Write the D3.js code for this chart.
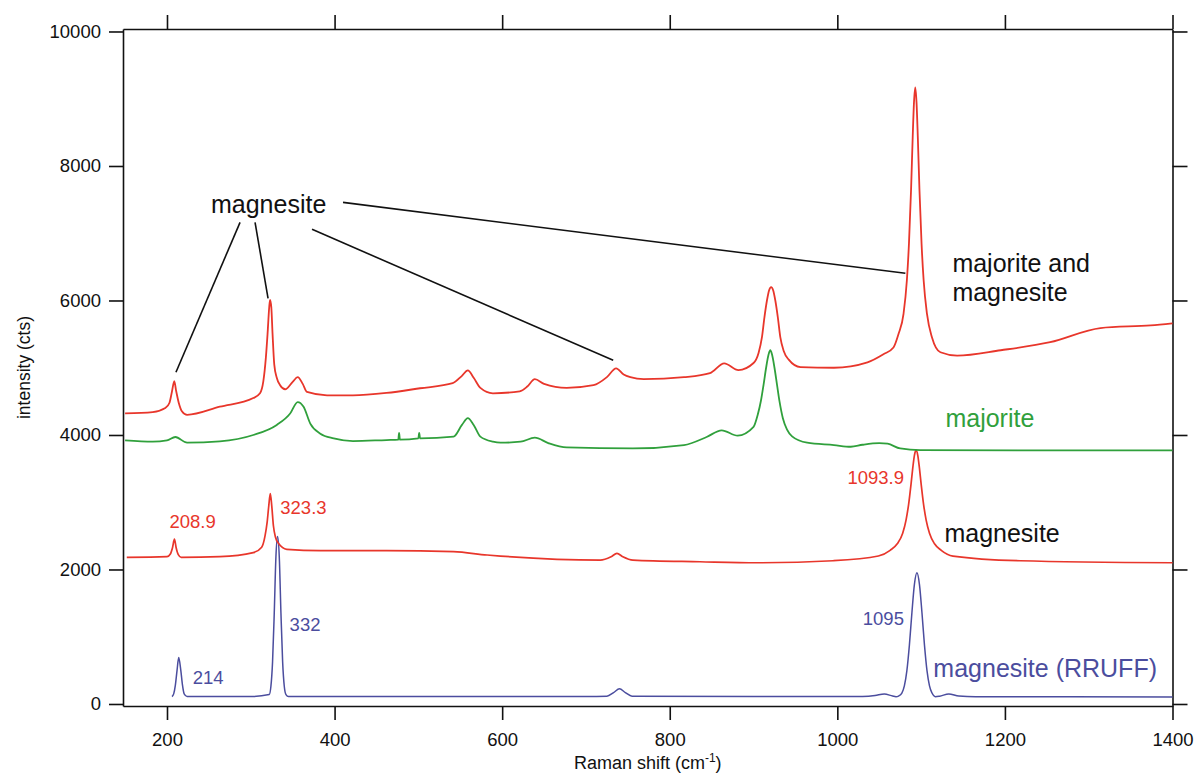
<!DOCTYPE html>
<html>
<head>
<meta charset="utf-8">
<script src="https://cdn.jsdelivr.net/npm/d3@7"></script>
<style>
  html, body { margin: 0; padding: 0; background: #fff; }
  svg { display: block; font-family: "Liberation Sans", Arial, Helvetica, sans-serif; }
</style>
</head>
<body>
<svg id="chart" width="1195" height="774"></svg>
<script>
// Raman spectra: [wavenumber (cm-1), intensity (cts)]
const mixedSpectrum = [
  [150, 4320], [183, 4340], [198, 4400], [203, 4480], [206, 4650], [208.7, 4800], [211, 4650],
  [214, 4480], [218, 4350], [224, 4300], [263, 4420], [303, 4550], [311, 4620], [315, 4800],
  [318, 5150], [320, 5500], [322, 5900], [323, 6010], [324.5, 5900], [326, 5500], [328, 5050],
  [331, 4850], [335, 4740], [341, 4680], [350, 4790], [356, 4860], [362, 4760], [367, 4640],
  [391, 4590], [422, 4590], [462, 4625], [502, 4695], [541, 4770], [552, 4880], [559, 4960],
  [566, 4850], [574, 4700], [589, 4620], [621, 4650], [630, 4720], [639, 4830], [650, 4760],
  [677, 4700], [709, 4740], [725, 4860], [736, 4990], [745, 4900], [753, 4860], [769, 4830],
  [817, 4860], [848, 4920], [865, 5065], [882, 4965], [900, 5070], [906, 5220], [910, 5450],
  [913, 5750], [916, 6000], [918.5, 6150], [921, 6200], [923.5, 6150], [926, 6000], [929, 5750],
  [932, 5450], [936, 5250], [942, 5120], [956, 5010], [996, 5000], [1036, 5080], [1055, 5200],
  [1067, 5300], [1073, 5500], [1079, 5800], [1083, 6300], [1085.5, 6850], [1088, 7650],
  [1090, 8450], [1091.5, 8950], [1093, 9170], [1094.5, 8950], [1096, 8450], [1098, 7650],
  [1100.5, 6850], [1103, 6300], [1107, 5800], [1113, 5450], [1123, 5230], [1143, 5180],
  [1195, 5260], [1254, 5380], [1314, 5590], [1374, 5630], [1400, 5660]
];

const majoriteSpectrum = [
  [150, 3920], [183, 3900], [200, 3920], [210, 3970], [224, 3885], [263, 3905], [303, 4000],
  [331, 4150], [347, 4320], [356, 4490], [363, 4420], [371, 4170], [383, 4020], [399, 3950],
  [422, 3910], [462, 3925], [476, 3930], [477, 4030], [478, 3930], [500, 3950], [501, 4030],
  [502, 3950], [542, 3975], [552, 4150], [559, 4250], [566, 4150], [574, 3975], [589, 3900],
  [598, 3885], [622, 3900], [639, 3960], [655, 3880], [677, 3815], [756, 3800], [817, 3850],
  [844, 3970], [862, 4070], [881, 3990], [900, 4120], [905, 4300], [909, 4520], [912, 4750],
  [915, 5000], [918, 5200], [920, 5260], [922, 5200], [925, 5000], [928, 4750], [931, 4500],
  [935, 4250], [940, 4080], [946, 3980], [964, 3885], [996, 3850], [1016, 3825], [1030, 3855],
  [1050, 3880], [1060, 3870], [1075, 3800], [1099, 3775], [1400, 3770]
];

const magnesiteSpectrum = [
  [152, 2180], [200, 2190], [204, 2230], [206.5, 2320], [208.9, 2450], [211, 2320], [213.5, 2220],
  [217, 2180], [263, 2190], [303, 2250], [313, 2330], [317, 2500], [319.5, 2700], [321.5, 2950],
  [323.3, 3130], [325, 2950], [327, 2650], [329.5, 2480], [333, 2390], [343, 2300], [383, 2280],
  [462, 2280], [542, 2265], [582, 2215], [598, 2200], [717, 2140], [730, 2190], [737, 2240],
  [744, 2190], [756, 2140], [836, 2115], [904, 2100], [995, 2130], [1049, 2200], [1063, 2285],
  [1071.5, 2382], [1078, 2540], [1082, 2735], [1085, 2962], [1088, 3274], [1090, 3506],
  [1092, 3698], [1093.9, 3774], [1096, 3698], [1098, 3506], [1100, 3274], [1103, 2962],
  [1106, 2735], [1110, 2540], [1116, 2382], [1124, 2285], [1138, 2200], [1218, 2130], [1400, 2100]
];

const rruffSpectrum = [
  [206, 110], [208, 150], [210, 280], [212, 500], [214, 690], [216.5, 500], [218.5, 280],
  [220.5, 150], [224, 112], [300, 110], [322, 140], [324, 260], [326, 630], [328, 1350],
  [330, 2190], [332, 2490], [334, 2190], [336, 1350], [338, 630], [340, 260], [342, 140],
  [345, 112], [700, 110], [725, 115], [733, 170], [740, 225], [747, 170], [755, 115],
  [1030, 112], [1045, 125], [1056, 150], [1066, 118], [1070, 108], [1073, 118], [1077, 163],
  [1080, 270], [1083, 497], [1086, 876], [1089, 1357], [1092, 1779], [1095, 1950],
  [1098, 1779], [1101, 1357], [1104, 876], [1107, 497], [1110, 270], [1113, 163], [1117, 108],
  [1122, 115], [1133, 150], [1145, 118], [1165, 108], [1400, 105]
];

// Peak positions quoted on the plot
const magnesitePeaks = ["208.9", "323.3", "1093.9"];
const rruffPeaks = ["214", "332", "1095"];

// Axis ticks
const xTicks = [200, 400, 600, 800, 1000, 1200, 1400];
const yTicks = [0, 2000, 4000, 6000, 8000, 10000];

const svg = d3.select("#chart");
const W = 1195, H = 774;
const margin = { left: 123, right: 22.5, top: 29, bottom: 68 };

const x = d3.scaleLinear().domain([147.5, 1400]).range([margin.left, W - margin.right]);
const y = d3.scaleLinear().domain([-30, 10037]).range([H - margin.bottom, margin.top]);

const RED = "#e8362b", GREEN = "#30a03c", BLUE = "#4b4d9e";

// ---- axes (full frame, outward ticks) ----
const tickFont = "18.5px";
const gL = svg.append("g").attr("transform", `translate(${margin.left},0)`)
  .call(d3.axisLeft(y).tickValues(yTicks).tickSize(14).tickSizeOuter(0).tickPadding(8).tickFormat(d3.format("d")));
const gB = svg.append("g").attr("transform", `translate(0,${H - margin.bottom})`)
  .call(d3.axisBottom(x).tickValues(xTicks).tickSize(14).tickSizeOuter(0).tickPadding(12.5).tickFormat(d3.format("d")));
const gT = svg.append("g").attr("transform", `translate(0,${margin.top})`)
  .call(d3.axisTop(x).tickValues(xTicks).tickSize(14).tickSizeOuter(0).tickFormat(""));
const gR = svg.append("g").attr("transform", `translate(${W - margin.right},0)`)
  .call(d3.axisRight(y).tickValues(yTicks).tickSize(15).tickSizeOuter(0).tickFormat(""));

[gL, gB, gT, gR].forEach(g => {
  g.select(".domain").attr("stroke", "#111").attr("stroke-width", 1.6);
  g.selectAll(".tick line").attr("stroke", "#111").attr("stroke-width", 1.6);
  g.selectAll(".tick text").attr("fill", "#111").style("font-size", tickFont)
    .style("font-family", "'Liberation Sans', Arial, sans-serif");
});

// axis titles
svg.append("text")
  .attr("transform", `translate(30,${(margin.top + H - margin.bottom) / 2}) rotate(-90)`)
  .attr("text-anchor", "middle")
  .style("font-size", "17.5px").attr("fill", "#111")
  .text("intensity (cts)");

const xt = svg.append("text")
  .attr("x", x((147.5 + 1400) / 2)).attr("y", 769)
  .attr("text-anchor", "middle")
  .style("font-size", "18px").attr("fill", "#111");
xt.append("tspan").text("Raman shift (cm");
xt.append("tspan").attr("dy", -7).style("font-size", "12px").text("-1");
xt.append("tspan").attr("dy", 7).text(")");

// ---- spectra ----
const line = d3.line()
  .x(d => x(d[0]))
  .y(d => y(d[1]))
  .curve(d3.curveMonotoneX);

const plot = svg.append("g");
[
  [rruffSpectrum, BLUE, 1.5],
  [magnesiteSpectrum, RED, 1.7],
  [majoriteSpectrum, GREEN, 1.8],
  [mixedSpectrum, RED, 1.8]
].forEach(([data, color, w]) => {
  plot.append("path")
    .datum(data)
    .attr("fill", "none")
    .attr("stroke", color)
    .attr("stroke-width", w)
    .attr("stroke-linejoin", "round")
    .attr("d", line);
});

// ---- leader lines from the "magnesite" note to the magnesite bands ----
const leaders = [
  [[287.2, 7162], [210.7, 4933]],
  [[305.1, 7162], [320.6, 6033]],
  [[373.1, 7058], [732.5, 5111]],
  [[410.1, 7459], [1081.2, 6404]]
];
svg.append("g").selectAll("line").data(leaders).join("line")
  .attr("x1", d => x(d[0][0])).attr("y1", d => y(d[0][1]))
  .attr("x2", d => x(d[1][0])).attr("y2", d => y(d[1][1]))
  .attr("stroke", "#111").attr("stroke-width", 1.6);

// ---- spectrum names ----
const big = "25px";
svg.append("text").attr("x", x(252.5)).attr("y", y(7295))
  .style("font-size", big).attr("fill", "#111").text("magnesite");

const mm = svg.append("text").attr("x", x(1137.3)).attr("y", y(6419))
  .style("font-size", big).attr("fill", "#111");
mm.append("tspan").attr("x", x(1137.3)).text("majorite and");
mm.append("tspan").attr("x", x(1137.3)).attr("dy", 28.5).text("magnesite");

svg.append("text").attr("x", x(1129)).attr("y", y(4116))
  .style("font-size", big).attr("fill", GREEN).text("majorite");
svg.append("text").attr("x", x(1127.8)).attr("y", y(2407))
  .style("font-size", big).attr("fill", "#111").text("magnesite");
svg.append("text").attr("x", x(1114.6)).attr("y", y(401))
  .style("font-size", big).attr("fill", BLUE).text("magnesite (RRUFF)");

// ---- peak position labels ----
const small = "18.5px";
const magLabelPos = [
  { dx: -5, cy: 2615, anchor: "start" },
  { dx: 10, cy: 2823, anchor: "start" },
  { dx: -12, cy: 3265, anchor: "end" }
];
magnesitePeaks.forEach((p, i) => {
  const o = magLabelPos[i];
  svg.append("text").attr("x", x(+p) + o.dx).attr("y", y(o.cy))
    .attr("text-anchor", o.anchor).style("font-size", small).attr("fill", RED).text(p);
});
const rruffLabelPos = [
  { dx: 14, cy: 297, anchor: "start" },
  { dx: 12, cy: 1089, anchor: "start" },
  { dx: -13, cy: 1174, anchor: "end" }
];
rruffPeaks.forEach((p, i) => {
  const o = rruffLabelPos[i];
  svg.append("text").attr("x", x(+p) + o.dx).attr("y", y(o.cy))
    .attr("text-anchor", o.anchor).style("font-size", small).attr("fill", BLUE).text(p);
});
</script>
</body>
</html>
